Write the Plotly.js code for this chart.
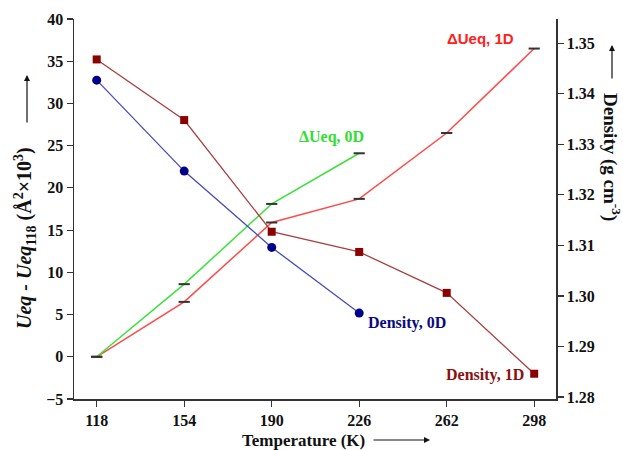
<!DOCTYPE html>
<html>
<head>
<meta charset="utf-8">
<script src="https://cdn.plot.ly/plotly-3.0.1.min.js"></script>
<style>html,body{margin:0;padding:0;background:#fff;}#chart{width:623px;height:450px;}</style>
</head>
<body>
<div id="chart"></div>
<script>
// Data
var temperatureTicks = [118, 154, 190, 226, 262, 298];
var temps1D = [118, 154, 190, 226, 262, 298];
var temps0D = [118, 154, 190, 226];
var dUeq1D = [0, 6.5, 15.9, 18.7, 26.5, 36.5];
var dUeq0D = [0, 8.6, 18.1, 24.1];
var density1D = [1.3468, 1.3348, 1.3127, 1.3087, 1.3006, 1.2846];
var density0D = [1.3427, 1.3247, 1.3096, 1.2966];
var leftTicks = [-5, 0, 5, 10, 15, 20, 25, 30, 35, 40];
var rightTicks = [1.28, 1.29, 1.30, 1.31, 1.32, 1.33, 1.34, 1.35];
var rightTickLabels = ['1.28', '1.29', '1.30', '1.31', '1.32', '1.33', '1.34', '1.35'];

var serif = 'Liberation Serif, Times New Roman, serif';
var capStyle = {symbol: 'line-ew', size: 8, line: {width: 2, color: '#333333'}, color: '#333333'};

// plot area in pixels: x 74..556, y 19..399
function px(x) { return (x - 74) / 482; }
function py(y) { return (399 - y) / 380; }

var traces = [
  {x: temps1D, y: dUeq1D, type: 'scatter', mode: 'lines+markers', yaxis: 'y',
   line: {color: '#ff4a4a', width: 1.5}, marker: capStyle, hoverinfo: 'none'},
  {x: temps0D, y: dUeq0D, type: 'scatter', mode: 'lines+markers', yaxis: 'y',
   line: {color: '#3ce03c', width: 1.5}, marker: capStyle, hoverinfo: 'none'},
  {x: temps1D, y: density1D, type: 'scatter', mode: 'lines+markers', yaxis: 'y2',
   line: {color: '#a84040', width: 1.3}, marker: {symbol: 'square', size: 8, color: '#8b0000'}, hoverinfo: 'none'},
  {x: temps0D, y: density0D, type: 'scatter', mode: 'lines+markers', yaxis: 'y2',
   line: {color: '#4a4ab8', width: 1.3}, marker: {symbol: 'circle', size: 9, color: '#00008b'}, hoverinfo: 'none'}
];

function label(x, y, text, font, angle) {
  return {xref: 'paper', yref: 'paper', x: px(x), y: py(y), xanchor: 'center', yanchor: 'middle',
          showarrow: false, text: text, font: font, textangle: angle || 0};
}
function arrow(hx, hy, tx, ty) {
  return {xref: 'paper', yref: 'paper', x: px(hx), y: py(hy), ax: tx - hx, ay: ty - hy,
          axref: 'pixel', ayref: 'pixel', text: '', showarrow: true, arrowhead: 2, arrowsize: 1,
          arrowwidth: 1.2, arrowcolor: '#111', standoff: 0, startstandoff: 0};
}

var tickFont = {family: serif, size: 16, color: '#111', weight: 'bold'};

var layout = {
  width: 623, height: 450,
  margin: {l: 74, r: 67, t: 19, b: 51},
  paper_bgcolor: '#fff', plot_bgcolor: '#fff',
  showlegend: false,
  font: {family: serif, size: 16, color: '#111'},
  xaxis: {
    range: [108.66, 306.97], tickvals: temperatureTicks, ticktext: temperatureTicks.map(String),
    showgrid: false, zeroline: false, showline: true, linecolor: '#333', linewidth: 1.5,
    ticks: 'outside', ticklen: 6, tickwidth: 1.2, tickcolor: '#333', tickfont: tickFont
  },
  yaxis: {
    range: [-5, 40], tickvals: leftTicks,
    showgrid: false, zeroline: false, showline: true, linecolor: '#333', linewidth: 1.5,
    ticks: 'outside', ticklen: 6, tickwidth: 1.2, tickcolor: '#333', tickfont: tickFont
  },
  yaxis2: {
    range: [1.2796, 1.3548], overlaying: 'y', side: 'right',
    tickvals: rightTicks, ticktext: rightTickLabels,
    showgrid: false, zeroline: false, showline: true, linecolor: '#333', linewidth: 1.5,
    ticks: 'outside', ticklen: 6, tickwidth: 1.2, tickcolor: '#333', tickfont: tickFont
  },
  annotations: [
    label(25, 238, '<b><i>Ueq - Ueq</i><sub>118</sub> (Å<sup>2</sup>×10<sup>3</sup>)</b>', {family: serif, size: 20, color: '#111'}, -90),
    arrow(27, 75, 27, 124),
    label(612, 157, '<b>Density (g cm<sup>-3</sup>)</b>', {family: serif, size: 19, color: '#111'}, 90),
    arrow(612, 45, 612, 80),
    label(303, 440, '<b>Temperature (K)</b>', {family: serif, size: 17, color: '#111'}, 0),
    arrow(430, 440, 372, 440),
    label(480, 38, '<b>ΔUeq, 1D</b>', {family: 'Liberation Sans, Arial, sans-serif', size: 15, color: '#ff2020'}),
    label(331, 137, '<b>ΔUeq, 0D</b>', {family: serif, size: 16, color: '#33dd33'}),
    label(407, 323, '<b>Density, 0D</b>', {family: serif, size: 16, color: '#0a0a80'}),
    label(485, 375, '<b>Density, 1D</b>', {family: serif, size: 16, color: '#8b1010'})
  ]
};

Plotly.newPlot('chart', traces, layout, {displayModeBar: false, staticPlot: true});
</script>
</body>
</html>
